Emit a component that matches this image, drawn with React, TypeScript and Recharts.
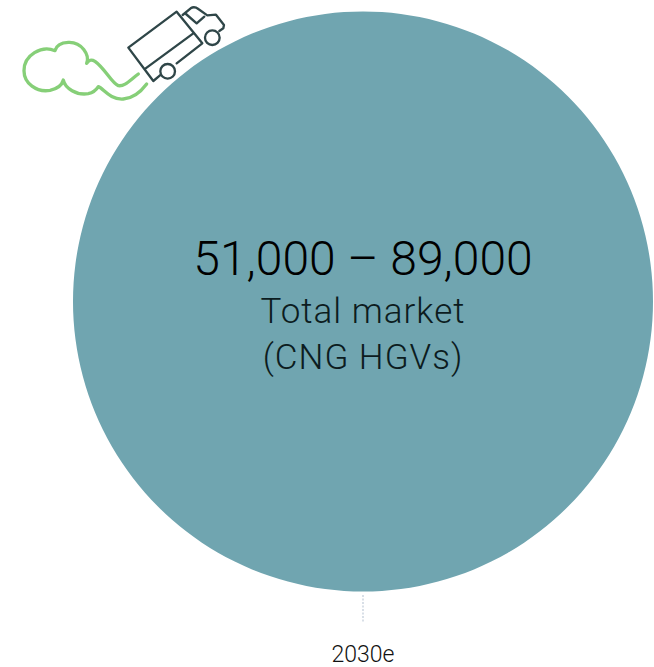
import { Pie, PieChart, Cell } from "recharts";

const years = ["2030e"];
const lowEstimates = [51000];
const highEstimates = [89000];
const marketLines = ["Total market", "(CNG HGVs)"];

const pieData = years.map((year, i) => ({ year, value: highEstimates[i] }));
const rangeLabel = `${lowEstimates[0].toLocaleString("en-GB")} – ${highEstimates[0].toLocaleString("en-GB")}`;

const FONT = "Roboto, sans-serif";
const WIDTH = 654;
const HEIGHT = 667;

// Lorry and exhaust cloud, drawn on a 3x grid
function TruckIcon() {
  return (
    <g transform="scale(0.3333)" fill="none" strokeLinecap="round" strokeLinejoin="round">
      <g stroke="#2f4648" strokeWidth={7}>
        <path d="M480 226 L460 243 L385 143 L530 35 L607 130 L530 190" />
        <path d="M437 205 L580 100" />
        <path d="M548 45 L572 25 Q583 18 595 27 L622 46 L648 44 L672 75 L670 85 L658 93" />
        <path d="M558 42 L590 70 L613 50" />
        <circle cx={503} cy={214} r={22} />
        <circle cx={637} cy={113} r={22} />
      </g>
      <path
        stroke="#86cf78"
        strokeWidth={10}
        d="M415 222 C390 240 375 260 355 257 C335 250 315 205 285 184 C275 178 268 178 260 190 C270 165 245 125 205 127 C180 128 168 140 165 152 C125 135 72 165 72 212 C72 250 110 278 150 271 C170 267 185 258 190 240 C195 265 230 287 265 281 C280 278 290 268 295 260 C310 265 330 300 370 297 C400 295 425 272 440 252"
      />
    </g>
  );
}

export default function App() {
  return (
    <div style={{ position: "absolute", left: 0, top: 0, width: WIDTH, height: HEIGHT }}>
      <PieChart width={WIDTH} height={HEIGHT} margin={{ top: 0, right: 0, bottom: 0, left: 0 }}>
        <Pie
          data={pieData}
          dataKey="value"
          nameKey="year"
          cx={363}
          cy={301.5}
          innerRadius={0}
          outerRadius={290}
          startAngle={90}
          endAngle={-270}
          stroke="none"
          isAnimationActive={false}
        >
          {pieData.map((d) => (
            <Cell key={d.year} fill="#70a5b0" />
          ))}
        </Pie>
      </PieChart>
      {/* The pie layer paints over chart children, so the labels sit in their own svg */}
      <svg width={WIDTH} height={HEIGHT} style={{ position: "absolute", left: 0, top: 0 }}>
        <TruckIcon />
        <line x1={363} y1={595} x2={363} y2={623} stroke="#ccd5e0" strokeWidth={1.5} strokeDasharray="2 1.5" />
        <text x={363} y={275} textAnchor="middle" fontFamily={FONT} fontWeight={300} fontSize={48} fill="#000">
          {rangeLabel}
        </text>
        {marketLines.map((line, i) => (
          <text key={line} x={363} y={323 + i * 46} textAnchor="middle" fontFamily={FONT} fontWeight={300} fontSize={35} letterSpacing={1} fill="#0c1c20">
            {line}
          </text>
        ))}
        <text x={363} y={662} textAnchor="middle" fontFamily={FONT} fontWeight={300} fontSize={23} fill="#111">
          {years[0]}
        </text>
      </svg>
    </div>
  );
}
